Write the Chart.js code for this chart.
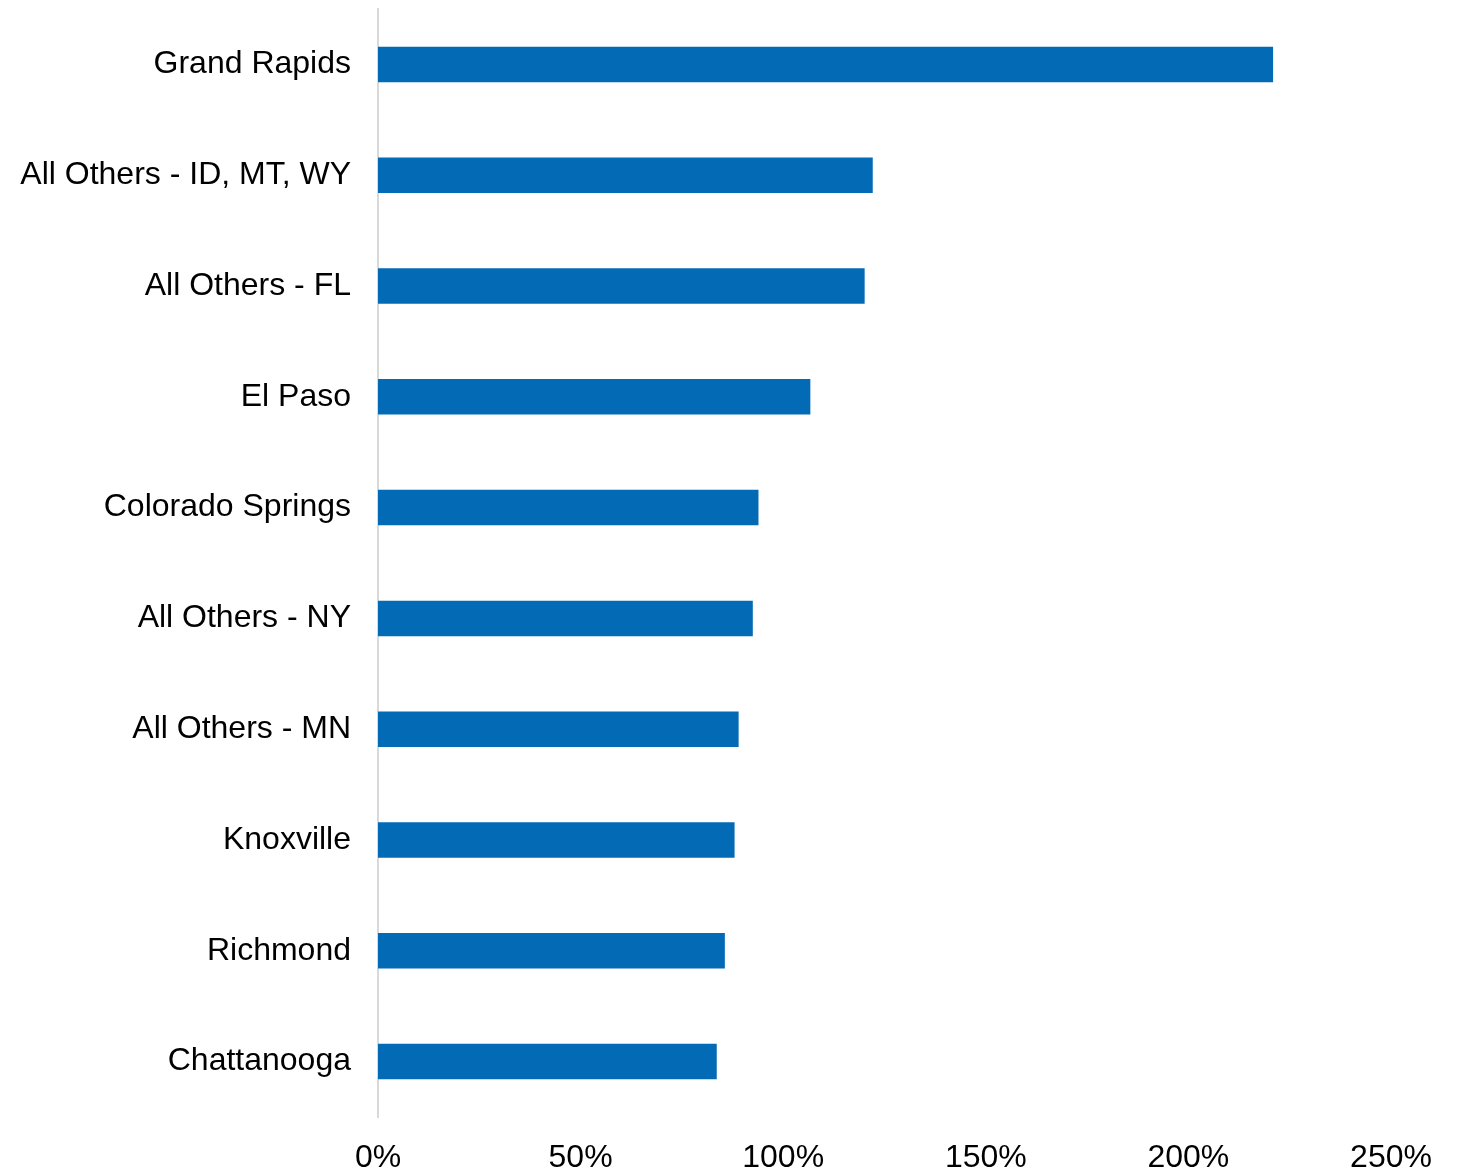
<!DOCTYPE html>
<html>
<head>
<meta charset="utf-8">
<title>Chart</title>
<script src="https://cdn.jsdelivr.net/npm/chart.js@4"></script>
<style>
  html, body { margin: 0; padding: 0; background: #fff; }
  #wrap { width: 1473px; height: 1173px; position: relative; }
</style>
</head>
<body>
<div id="wrap"><canvas id="barChart"></canvas></div>
<script>
// markets and their growth (%)
var markets = [
    'Grand Rapids',
    'All Others - ID, MT, WY',
    'All Others - FL',
    'El Paso',
    'Colorado Springs',
    'All Others - NY',
    'All Others - MN',
    'Knoxville',
    'Richmond',
    'Chattanooga'
];
var growth = [220.9, 122.1, 120.1, 106.7, 93.9, 92.5, 89.0, 88.0, 85.6, 83.6];
var xTicks = [0, 50, 100, 150, 200, 250];

var labelFont = { family: 'Liberation Sans, Arial, sans-serif', size: 32 };

var ctx = document.getElementById('barChart');
var barChart = new Chart(ctx, {
    type: 'bar',
    data: {
        labels: markets,
        datasets: [
            {
                data: growth,
                backgroundColor: '#036bb5',
                borderWidth: 0,
                categoryPercentage: 1,
                barPercentage: 0.32
            }
        ]
    },
    options: {
        indexAxis: 'y',
        responsive: true,
        maintainAspectRatio: false,
        animation: false,
        layout: { padding: { top: 9, right: 82, left: 0, bottom: 0 } },
        plugins: {
            legend: { display: false },
            tooltip: { enabled: false }
        },
        scales: {
            x: {
                min: 0,
                max: 250,
                afterBuildTicks: function (scale) {
                    scale.ticks = xTicks.map(function (v) { return { value: v }; });
                },
                afterFit: function (scale) { scale.height = 56; },
                grid: { display: false, drawTicks: false },
                border: { display: false },
                ticks: {
                    padding: 22,
                    color: '#000',
                    font: labelFont,
                    maxRotation: 0,
                    callback: function (v) { return v + '%'; }
                }
            },
            y: {
                afterFit: function (scale) {
                    scale.width = 378;
                    scale.paddingTop = 0;
                    scale.paddingBottom = 0;
                },
                grid: { display: false, drawTicks: false },
                border: { display: true, color: '#d9d9d9', width: 2 },
                ticks: {
                    padding: 27,
                    color: '#000',
                    font: labelFont
                }
            }
        }
    }
});
</script>
</body>
</html>
